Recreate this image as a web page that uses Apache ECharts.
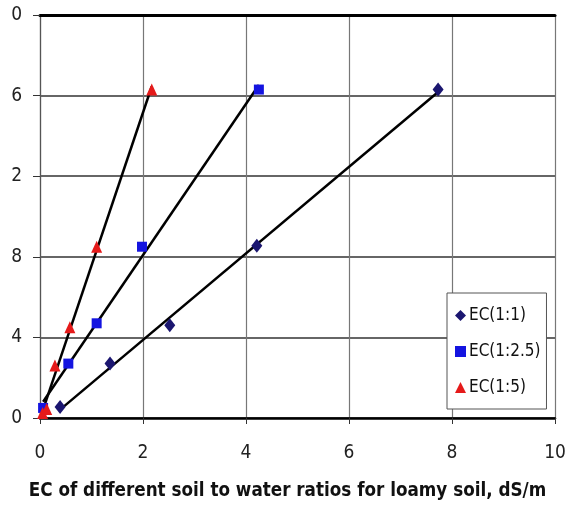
<!DOCTYPE html>
<html><head><meta charset="utf-8">
<script src="https://cdn.jsdelivr.net/npm/echarts@6/dist/echarts.min.js"></script>
<style>html,body{margin:0;padding:0;background:#fff}#c{width:578px;height:510px}</style>
</head><body><div id="c"></div>
<script>
var seriesNames = ['EC(1:1)', 'EC(1:2.5)', 'EC(1:5)'];
var ec11X = [0.39, 1.36, 2.52, 4.21, 7.73];
var ec11Y = [0.55, 2.7, 4.6, 8.55, 16.3];
var ec125X = [0.06, 0.55, 1.1, 1.98, 4.25];
var ec125Y = [0.5, 2.7, 4.7, 8.5, 16.3];
var ec15X = [0.05, 0.13, 0.29, 0.58, 1.1, 2.17];
var ec15Y = [0.25, 0.45, 2.6, 4.5, 8.5, 16.3];
var yTickLabels = ['0', '4', '8', '2', '6', '0'];
var xTickLabels = ['0', '2', '4', '6', '8', '10'];
var xTitle = 'EC of different soil to water ratios for loamy soil, dS/m';

function pairs(xs, ys) { return xs.map(function (x, i) { return [x, ys[i]]; }); }
function fit(xs, ys) {
  var n = xs.length, sx = 0, sy = 0, sxx = 0, sxy = 0;
  for (var i = 0; i < n; i++) { sx += xs[i]; sy += ys[i]; sxx += xs[i]*xs[i]; sxy += xs[i]*ys[i]; }
  var b = (n*sxy - sx*sy) / (n*sxx - sx*sx), a = (sy - b*sx)/n;
  var x0 = Math.min.apply(null, xs), x1 = Math.max.apply(null, xs);
  return [[x0, a + b*x0], [x1, a + b*x1]];
}
var font = '"DejaVu Sans Condensed", "Liberation Sans", Arial, sans-serif';
var chart = echarts.init(document.getElementById('c'));
function trend(xs, ys) {
  return { type: 'line', data: fit(xs, ys), symbol: 'none', silent: true, z: 3,
    lineStyle: { color: '#000', width: 2.5 } };
}
chart.setOption({
  animation: false,
  backgroundColor: '#fff',
  grid: { left: 40, right: 23, top: 15, bottom: 92, containLabel: false, outerBoundsMode: 'none' },
  legend: {
    orient: 'vertical', left: 447, top: 293, width: 100,
    backgroundColor: '#fff', borderColor: '#555', borderWidth: 1,
    padding: [14, 6, 13, 8], itemGap: 19, itemWidth: 11, itemHeight: 11,
    textStyle: { fontFamily: font, fontSize: 17, color: '#111', padding: [0, 0, 0, -2] },
    data: [{ name: seriesNames[0], icon: 'diamond' }, { name: seriesNames[1], icon: 'rect' }, { name: seriesNames[2], icon: 'triangle' }]
  },
  xAxis: [{
    type: 'value', min: 0, max: 10, interval: 2,
    name: xTitle, nameLocation: 'middle', nameGap: 64,
    nameTextStyle: { fontFamily: font, fontWeight: 'bold', fontSize: 18.7, color: '#111', padding: [0, 20, 0, 0] },
    axisLine: { show: true, lineStyle: { color: '#000', width: 2.5 } },
    axisTick: { show: true, length: 6, lineStyle: { color: '#333' } },
    axisLabel: { fontFamily: font, fontSize: 19, color: '#222', margin: 26,
      formatter: function (v) { return xTickLabels[Math.round(v/2)]; } },
    splitLine: { show: true, lineStyle: { color: '#777', width: 1.2 } }
  }, {
    type: 'value', min: 0, max: 10, position: 'top',
    axisLine: { show: true, lineStyle: { color: '#000', width: 3 } },
    axisTick: { show: false }, axisLabel: { show: false }, splitLine: { show: false }
  }],
  yAxis: {
    type: 'value', min: 0, max: 20, interval: 4,
    axisLine: { show: true, lineStyle: { color: '#555', width: 1.2 } },
    axisTick: { show: true, length: 7, lineStyle: { color: '#333' } },
    axisLabel: { fontFamily: font, fontSize: 19, color: '#222', margin: 18,
      formatter: function (v) { return yTickLabels[Math.round(v/4)]; } },
    splitLine: { show: true, lineStyle: { color: '#333', width: 1.5 } }
  },
  series: [
    trend(ec11X, ec11Y), trend(ec125X, ec125Y), trend(ec15X, ec15Y),
    { name: seriesNames[0], type: 'scatter', data: pairs(ec11X, ec11Y), symbol: 'diamond', symbolSize: [11, 14], z: 4,
      itemStyle: { color: '#1b1670', opacity: 1 } },
    { name: seriesNames[1], type: 'scatter', data: pairs(ec125X, ec125Y), symbol: 'rect', symbolSize: 10, z: 4,
      itemStyle: { color: '#1414e0', opacity: 1 } },
    { name: seriesNames[2], type: 'scatter', data: pairs(ec15X, ec15Y), symbol: 'triangle', symbolSize: [11, 12], z: 4,
      itemStyle: { color: '#e51a1a', opacity: 1 } }
  ]
});
</script></body></html>
